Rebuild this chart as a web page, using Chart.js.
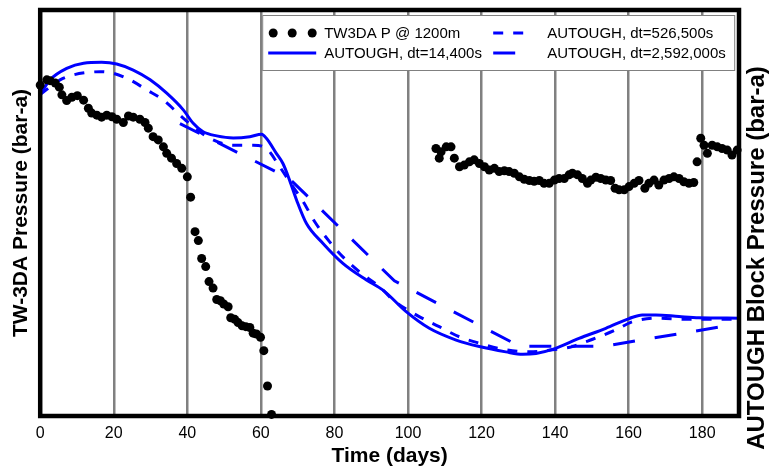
<!DOCTYPE html>
<html>
<head>
<meta charset="utf-8">
<script src="https://cdn.jsdelivr.net/npm/chart.js@4"></script>
<style>
  html, body { margin: 0; padding: 0; background: #fff; }
</style>
</head>
<body>
<canvas id="grafico" width="770" height="470"></canvas>
<script>
// dados (dias x pressão, escala arbitrária 0-100)

const tw3daDias = [
  0, 1.8, 2.7, 4.1, 5.2, 5.9, 7.2, 8.6, 10.1, 11.8, 13.1, 14.0, 15.4, 16.7, 18.1, 19.5, 20.8, 22.6, 24.0, 25.3,
  27.1, 28.5, 29.4, 30.7, 32.1, 33.5, 34.4, 35.7, 37.1, 38.5, 40.0, 40.9, 42.1, 43.0, 43.9, 45.0, 45.9, 47.0, 48.0, 49.0,
  49.9, 51.1, 51.8, 52.9, 53.8, 54.9, 55.9, 57.0, 57.9, 58.8, 59.9, 60.8, 61.8, 62.9,
  107.6, 108.5, 109.0, 110.4, 111.7, 112.6, 114.0, 115.3, 116.7, 118.0, 119.4, 120.8, 122.1, 123.5, 124.8, 126.2, 127.5, 128.9, 130.3, 131.6,
  133.0, 134.3, 135.7, 137.0, 138.4, 139.8, 141.1, 142.5, 143.8, 144.7, 146.1, 147.4, 148.8, 149.7, 151.1, 152.4, 153.8, 155.1, 156.3, 157.4,
  158.8, 160.1, 161.5, 162.8, 164.4, 165.5, 166.9, 168.2, 169.6, 171.0, 172.3, 173.7, 175.0, 176.4, 177.7, 178.6, 179.6, 180.5, 181.4, 182.7,
  184.1, 185.4, 186.8, 188.1, 189.5
];
const tw3daPressao = [
  81.5, 82.8, 82.6, 82.0, 81.0, 79.1, 77.7, 78.5, 78.9, 77.8, 75.8, 74.6, 74.1, 73.6, 74.1, 73.7, 73.1, 72.3, 73.9, 73.6,
  73.1, 72.3, 70.9, 68.8, 68.0, 66.3, 64.7, 63.5, 62.2, 61.0, 58.9, 53.9, 45.4, 43.2, 38.8, 36.8, 33.1, 31.5, 28.7, 28.4,
  27.6, 26.9, 24.2, 23.8, 23.0, 22.2, 22.0, 21.8, 20.4, 20.2, 19.4, 16.1, 7.4, 0.4,
  65.9, 63.5, 65.1, 66.3, 66.3, 63.5, 61.4, 61.8, 62.6, 63.1, 62.2, 61.4, 60.6, 61.0, 60.2, 60.4, 60.2, 59.8, 58.9, 58.3,
  58.0, 57.8, 58.0, 57.3, 57.3, 58.1, 58.5, 58.5, 59.4, 59.8, 59.4, 58.5, 57.3, 58.1, 58.8, 58.5, 58.1, 58.0, 56.1, 55.7,
  55.7, 56.5, 57.3, 58.0, 56.1, 57.3, 58.1, 56.9, 58.1, 58.5, 58.9, 58.5, 57.7, 57.3, 57.5, 62.6, 68.4, 66.7, 64.7, 66.7,
  66.3, 65.9, 65.5, 64.3, 65.5
];

const dt14400Dias = [0, 2.7, 7.2, 11.8, 16.7, 20.8, 25.3, 29.9, 34.4, 38.9, 41.6, 44.3, 48.0, 52.5, 57.0, 60.2, 61.5, 64.2, 66.0, 67.8,
  69.7, 72.4, 76.9, 82.3, 88.7, 93.2, 99.5, 105.8, 113.1, 119.4, 126.6, 131.2, 134.8, 139.3, 146.5, 153.8, 160.1, 163.7, 167.4, 173.7,
  179.1, 190];
const dt14400Pressao = [79.2, 82.8, 85.6, 86.9, 87.1, 86.7, 85.2, 82.8, 79.5, 75.4, 72.1, 70.0, 69.0, 68.5, 68.8, 69.4, 68.4, 64.7, 62.2, 58.1,
  53.2, 47.4, 42.5, 37.6, 33.5, 31.0, 25.7, 21.6, 18.7, 17.1, 15.8, 15.2, 15.4, 16.4, 19.1, 21.6, 24.0, 24.9, 24.9, 24.5,
  24.2, 24.1];

const dt526500Dias = [0, 5.4, 9.0, 12.7, 16.3, 19.9, 24.4, 29.0, 33.5, 38.0, 42.5, 46.1, 52.5, 57.9, 61.5, 65.1, 68.7, 71.5, 74.6, 78.7,
  82.3, 86.8, 92.3, 95.9, 102.2, 108.5, 114.0, 120.3, 126.6, 133.0, 139.3, 144.7, 150.2, 156.5, 161.0, 168.2, 175.5, 182.7, 190];
const dt526500Pressao = [79.2, 82.8, 84.0, 84.6, 84.8, 84.4, 82.8, 80.3, 77.8, 74.1, 70.6, 68.4, 66.7, 66.7, 65.9, 61.4, 56.5, 52.8, 47.9, 42.9,
  39.2, 35.5, 31.8, 28.6, 24.9, 22.0, 19.5, 17.7, 16.3, 15.8, 16.3, 17.1, 18.9, 21.2, 23.2, 24.1, 23.8, 23.8, 23.8];

const dt2592000Dias = [38.0, 67.6, 96.3, 130.3, 153.3, 190];
const dt2592000Pressao = [72.0, 58.6, 33.3, 17.2, 17.2, 22.7];

const ticksX = [0, 20, 40, 60, 80, 100, 120, 140, 160, 180];

const rotulos = ['TW3DA P @ 1200m', 'AUTOUGH, dt=14,400s', 'AUTOUGH, dt=526,500s', 'AUTOUGH, dt=2,592,000s'];
const tituloX = 'Time (days)';
const tituloEsquerda = 'TW-3DA Pressure (bar-a)';
const tituloDireita = 'AUTOUGH Block Pressure (bar-a)';

const fonte = '"Liberation Sans", Arial, sans-serif';
const azul = '#0000ff';

function pares(xs, ys) {
  return xs.map((x, i) => ({ x: x, y: ys[i] }));
}

// moldura, título da direita e legenda desenhados à mão
const molduraELegenda = {
  id: 'molduraELegenda',
  afterDraw(chart) {
    const { ctx, chartArea: a } = chart;
    ctx.save();
    ctx.strokeStyle = '#000';
    ctx.lineWidth = 4.5;
    ctx.strokeRect(a.left, a.top, a.right - a.left, a.bottom - a.top);

    ctx.save();
    ctx.font = 'bold 24px ' + fonte;
    ctx.fillStyle = '#000';
    ctx.textAlign = 'center';
    ctx.textBaseline = 'middle';
    ctx.translate(757, 258);
    ctx.rotate(-Math.PI / 2);
    ctx.fillText(tituloDireita, 0, 0);
    ctx.restore();

    // caixa da legenda
    const bx = a.left + 222, by = a.top + 5, bw = 472, bh = 55;
    ctx.fillStyle = '#fff';
    ctx.fillRect(bx, by, bw, bh);
    ctx.strokeStyle = '#808080';
    ctx.lineWidth = 1;
    ctx.strokeRect(bx + 0.5, by + 0.5, bw, bh);

    const ordem = [0, 2, 1, 3];
    const colX = [bx + 6, bx + 231];
    const colLarg = [48, 34];
    const colTexto = [bx + 62, bx + 285];
    const linhaY = [by + 18, by + 38];
    ctx.font = '15px ' + fonte;
    ctx.textAlign = 'left';
    ctx.textBaseline = 'middle';
    ordem.forEach((idx, k) => {
      const ds = chart.data.datasets[idx];
      const c = k % 2, r = Math.floor(k / 2);
      const x0 = colX[c], y0 = linhaY[r];
      if (ds.showLine) {
        ctx.strokeStyle = ds.borderColor;
        ctx.lineWidth = ds.borderWidth;
        ctx.setLineDash(ds.borderDash || []);
        ctx.beginPath();
        ctx.moveTo(x0, y0);
        ctx.lineTo(x0 + colLarg[c], y0);
        ctx.stroke();
        ctx.setLineDash([]);
      } else {
        ctx.fillStyle = ds.backgroundColor;
        [5, 24, 44].forEach(dx => {
          ctx.beginPath();
          ctx.arc(x0 + dx, y0, ds.pointRadius, 0, Math.PI * 2);
          ctx.fill();
        });
      }
      ctx.fillStyle = '#000';
      ctx.fillText(ds.label, colTexto[c], y0 + 1);
    });
    ctx.restore();
  }
};

new Chart(document.getElementById('grafico'), {
  type: 'scatter',
  data: {
    datasets: [
      {
        label: rotulos[0],
        data: pares(tw3daDias, tw3daPressao),
        showLine: false,
        pointRadius: 4.5,
        backgroundColor: '#000',
        borderWidth: 0,
        clip: false
      },
      {
        label: rotulos[1],
        data: pares(dt14400Dias, dt14400Pressao),
        showLine: true,
        borderColor: azul,
        borderWidth: 3,
        pointRadius: 0,
        cubicInterpolationMode: 'monotone'
      },
      {
        label: rotulos[2],
        data: pares(dt526500Dias, dt526500Pressao),
        showLine: true,
        borderColor: azul,
        borderWidth: 3,
        borderDash: [10, 10],
        pointRadius: 0,
        cubicInterpolationMode: 'monotone'
      },
      {
        label: rotulos[3],
        data: pares(dt2592000Dias, dt2592000Pressao),
        showLine: true,
        borderColor: azul,
        borderWidth: 3,
        borderDash: [22, 20],
        pointRadius: 0,
        tension: 0
      }
    ]
  },
  options: {
    responsive: false,
    animation: false,
    layout: { padding: { left: 6, right: 31, top: 10, bottom: 0 } },
    plugins: {
      legend: { display: false },
      tooltip: { enabled: false }
    },
    scales: {
      x: {
        type: 'linear',
        min: 0,
        max: 190,
        afterBuildTicks: axis => {
          axis.ticks = ticksX.map(v => ({ value: v }));
        },
        ticks: {
          color: '#000',
          padding: 8,
          maxRotation: 0,
          autoSkip: false,
          font: { family: fonte, size: 16 }
        },
        grid: {
          color: c => (c.tick && c.tick.value === 0) ? 'rgba(0,0,0,0)' : '#808080',
          lineWidth: 2.5,
          drawTicks: false
        },
        border: { display: false },
        title: {
          display: true,
          text: tituloX,
          color: '#000',
          // lineHeight pequeno para encostar o título nos rótulos
          font: { family: fonte, size: 21, weight: 'bold', lineHeight: 0.457 },
          padding: { top: 0, bottom: 9.2 }
        }
      },
      y: {
        min: 0,
        max: 100,
        ticks: { display: false },
        grid: { display: false, drawTicks: false },
        border: { display: false },
        title: {
          display: true,
          text: tituloEsquerda,
          color: '#000',
          font: { family: fonte, size: 21, weight: 'bold' },
          padding: { top: 3, bottom: 6 }
        }
      }
    }
  },
  plugins: [molduraELegenda]
});
</script>
</body>
</html>
